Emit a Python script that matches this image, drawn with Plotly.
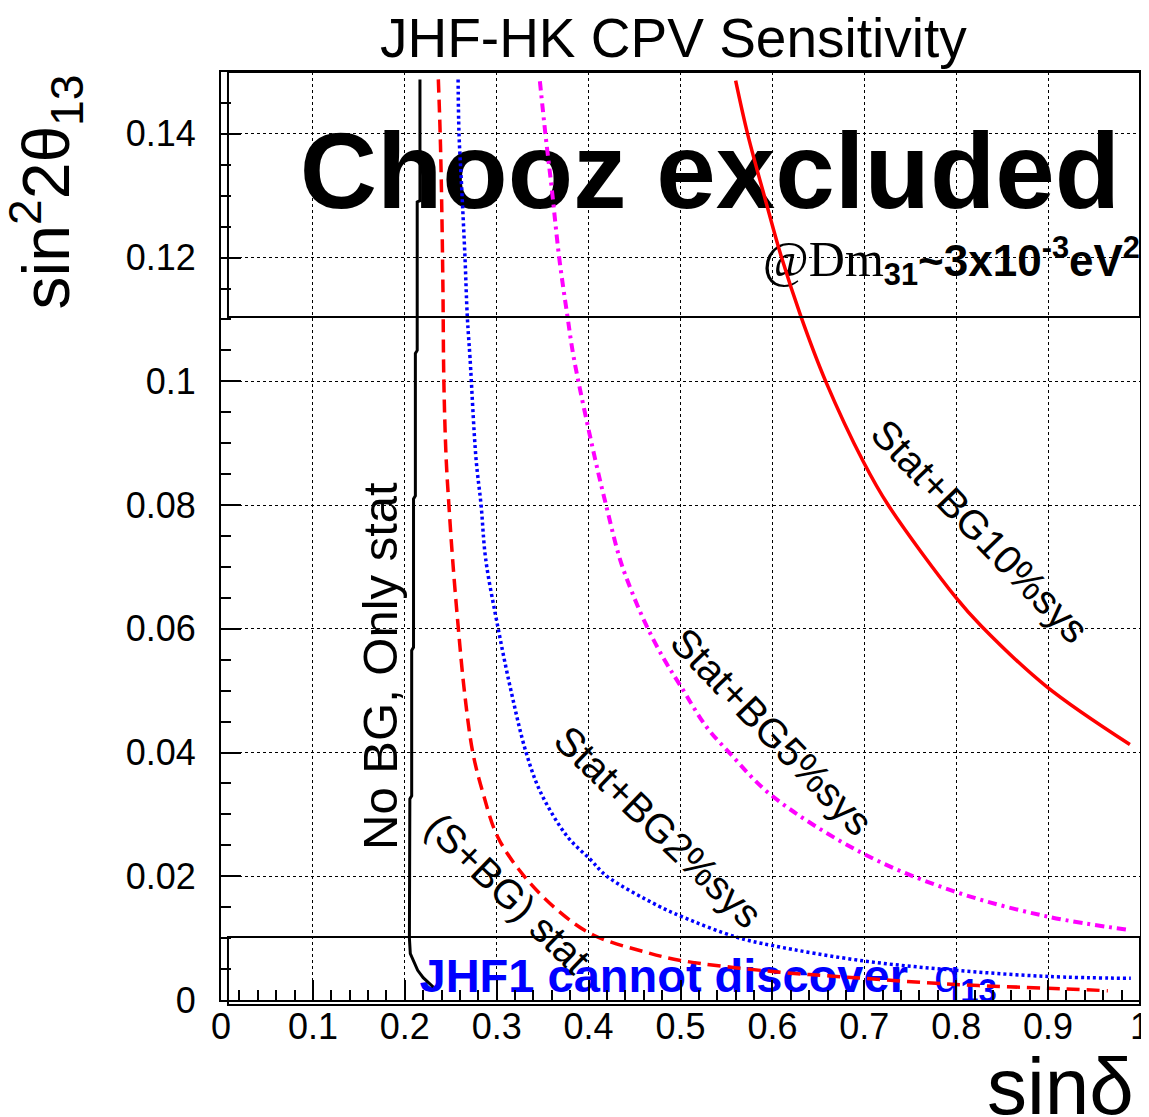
import plotly.graph_objects as go

# ---------------- data ----------------
nobg_x = [0.2165, 0.2165, 0.2135, 0.2135, 0.2115, 0.2115, 0.2095, 0.2095, 0.2075, 0.2075,
          0.2055, 0.2050, 0.2060, 0.2100, 0.2140, 0.2200, 0.2310]
nobg_y = [0.1488, 0.1292, 0.1290, 0.1050, 0.1045, 0.0815, 0.0810, 0.0570, 0.0565, 0.0330,
          0.0325, 0.0100, 0.0075, 0.0060, 0.0048, 0.0036, 0.0021]

sbg_x = [0.2365, 0.2385, 0.2400, 0.2415, 0.2425, 0.2450, 0.2480, 0.2520, 0.2580, 0.2650,
         0.2740, 0.2850, 0.3010, 0.3300, 0.3680, 0.4050, 0.4630, 0.5000, 0.6000, 0.6900,
         0.8000, 0.9000, 0.9650]
sbg_y = [0.1488, 0.1400, 0.1300, 0.1150, 0.1000, 0.0875, 0.0800, 0.0713, 0.0605, 0.0497,
         0.0400, 0.0335, 0.0264, 0.0200, 0.0143, 0.0105, 0.0077, 0.0064, 0.0046, 0.0036,
         0.0025, 0.0019, 0.0015]

bg2_x = [0.2580, 0.2590, 0.2620, 0.2655, 0.2680, 0.2710, 0.2775, 0.2830, 0.2880, 0.3010,
         0.3160, 0.3320, 0.3480, 0.3770, 0.4020, 0.4200, 0.4760, 0.5010, 0.5600,
         0.6000, 0.7000, 0.8000, 0.9000, 0.9900]
bg2_y = [0.1488, 0.1400, 0.1310, 0.1200, 0.1105, 0.1037, 0.0875, 0.0800, 0.0713, 0.0605,
         0.0497, 0.0400, 0.0335, 0.0264, 0.0227, 0.0200, 0.0152, 0.0135, 0.0102,
         0.0088, 0.0063, 0.0048, 0.0038, 0.0035]

bg5_x = [0.3470, 0.3530, 0.3600, 0.3680, 0.3770, 0.3840, 0.4070, 0.4190, 0.4340, 0.4470,
         0.4630, 0.4820, 0.5000, 0.5280, 0.5530, 0.5980, 0.6970, 0.7970, 0.8990, 0.9890]
bg5_y = [0.1485, 0.1400, 0.1310, 0.1200, 0.1105, 0.1037, 0.0875, 0.0800, 0.0713, 0.0660,
         0.0605, 0.0551, 0.0508, 0.0442, 0.0400, 0.0332, 0.0238, 0.0176, 0.0135, 0.0113]

bg10_x = [0.5600, 0.5730, 0.5930, 0.6100, 0.6310, 0.6580, 0.6990, 0.7260, 0.8000, 0.8270,
          0.8980, 0.9890]
bg10_y = [0.1486, 0.1400, 0.1290, 0.1200, 0.1105, 0.1000, 0.0870, 0.0800, 0.0650, 0.0605,
          0.0507, 0.0413]

x_tick_vals = [0, 0.1, 0.2, 0.3, 0.4, 0.5, 0.6, 0.7, 0.8, 0.9, 1.0]
y_tick_vals = [0, 0.02, 0.04, 0.06, 0.08, 0.10, 0.12, 0.14]

CHOOZ_LIMIT = 0.1104   # sin^2 2theta13 above which Chooz excludes
JHF1_LIMIT = 0.0102    # sin^2 2theta13 below which JHF1 cannot discover
Y_MAX = 0.1500

FONT = "Liberation Sans, Arial, sans-serif"

fig = go.Figure()

# text drawn first so the curves appear on top of it
fig.add_trace(go.Scatter(
    x=[0.532], y=[0.1324], mode="text", text=["<b>Chooz excluded</b>"],
    textposition="middle center", cliponaxis=False, hoverinfo="skip",
    textfont=dict(family=FONT, size=107, color="black"), showlegend=False))
fig.add_trace(go.Scatter(
    x=[1.0], y=[0.1188], mode="text",
    text=['<span style="font-family:Liberation Serif;font-size:50px">@Dm</span>'
          '<b><sub>31</sub>~3x10<sup>-3</sup>eV<sup>2</sup></b>'],
    textposition="middle left", cliponaxis=False, hoverinfo="skip",
    textfont=dict(family=FONT, size=44, color="black"), showlegend=False))
fig.add_trace(go.Scatter(
    x=[0.2160], y=[0.0032], mode="text",
    text=['<b>JHF1 cannot discover</b>&nbsp;&nbsp;q<b><sub>13</sub></b>'],
    textposition="middle right", cliponaxis=False, hoverinfo="skip",
    textfont=dict(family=FONT, size=47, color="#0000ff"), showlegend=False))

fig.add_trace(go.Scatter(x=nobg_x, y=nobg_y, mode="lines", showlegend=False,
                         line=dict(color="black", width=3)))
fig.add_trace(go.Scatter(x=sbg_x, y=sbg_y, mode="lines", showlegend=False, line_shape="spline",
                         line=dict(color="#ff0000", width=3.5, dash="13px,7px")))
fig.add_trace(go.Scatter(x=bg2_x, y=bg2_y, mode="lines", showlegend=False, line_shape="spline",
                         line=dict(color="#0000ff", width=3.5, dash="3px,3px")))
fig.add_trace(go.Scatter(x=bg5_x, y=bg5_y, mode="lines", showlegend=False, line_shape="spline",
                         line=dict(color="#ff00ff", width=4, dash="9px,5px,3px,5px")))
fig.add_trace(go.Scatter(x=bg10_x, y=bg10_y, mode="lines", showlegend=False, line_shape="spline",
                         line=dict(color="#ff0000", width=3.5)))

axis_common = dict(
    showline=True, linecolor="black", linewidth=2, mirror=True, automargin=False,
    ticks="inside", ticklen=20, tickwidth=1.5, tickcolor="black",
    showgrid=True, gridcolor="black", gridwidth=1, griddash="dot",
    zeroline=False, tickfont=dict(family=FONT, size=36, color="black"),
    ticklabeloverflow="allow",
)

# the page body adds an 8px margin, so the figure is smaller than the window
fig.update_layout(
    width=1133, height=1109,
    margin=dict(l=213, r=1, t=64, b=117),
    paper_bgcolor="white", plot_bgcolor="white",
    xaxis=dict(range=[0, 1], tickvals=x_tick_vals, ticklabelstandoff=-6,
               minor=dict(dtick=0.02, ticks="inside", ticklen=10, tickcolor="black",
                          tickwidth=1.5, showgrid=False),
               **axis_common),
    yaxis=dict(range=[0, Y_MAX], tickvals=y_tick_vals, ticklabelstandoff=16,
               minor=dict(dtick=0.005, ticks="inside", ticklen=10, tickcolor="black",
                          tickwidth=1.5, showgrid=False),
               **axis_common),
    showlegend=False,
)

# excluded / undiscoverable regions
fig.add_shape(type="rect", xref="paper", yref="y", x0=0.0076, x1=1.0,
              y0=CHOOZ_LIMIT, y1=Y_MAX, line=dict(color="black", width=2))
fig.add_shape(type="rect", xref="paper", yref="paper", x0=0.0076, x1=1.0,
              y0=-0.0054, y1=JHF1_LIMIT / Y_MAX, line=dict(color="black", width=2))

ann = []
ann.append(dict(text="JHF-HK CPV Sensitivity", xref="paper", yref="paper", x=0.492, y=1.0366,
                showarrow=False, xanchor="center", yanchor="middle",
                font=dict(family=FONT, size=55, color="black")))
ann.append(dict(text="sin<sup>2</sup>2θ<sub>13</sub>", xref="paper", yref="paper",
                x=-0.190, y=0.8707, textangle=-90, showarrow=False,
                xanchor="center", yanchor="middle",
                font=dict(family=FONT, size=66, color="black")))
ann.append(dict(text="sinδ", xref="paper", yref="paper", x=0.913, y=-0.0935,
                showarrow=False, xanchor="center", yanchor="middle",
                font=dict(family=FONT, size=80, color="black")))
ann.append(dict(text="No BG, Only stat", x=0.173, y=0.054, textangle=-90, showarrow=False,
                font=dict(family=FONT, size=49, color="black")))
ann.append(dict(text="(S+BG) stat", x=0.312, y=0.0173, textangle=44, showarrow=False,
                font=dict(family=FONT, size=40, color="black")))
ann.append(dict(text="Stat+BG2%sys", x=0.476, y=0.0279, textangle=44, showarrow=False,
                font=dict(family=FONT, size=40, color="black")))
ann.append(dict(text="Stat+BG5%sys", x=0.600, y=0.0434, textangle=46, showarrow=False,
                font=dict(family=FONT, size=40, color="black")))
ann.append(dict(text="Stat+BG10%sys", x=0.826, y=0.0758, textangle=46, showarrow=False,
                font=dict(family=FONT, size=40, color="black")))
fig.update_layout(annotations=ann)

fig.write_html("out.html")
